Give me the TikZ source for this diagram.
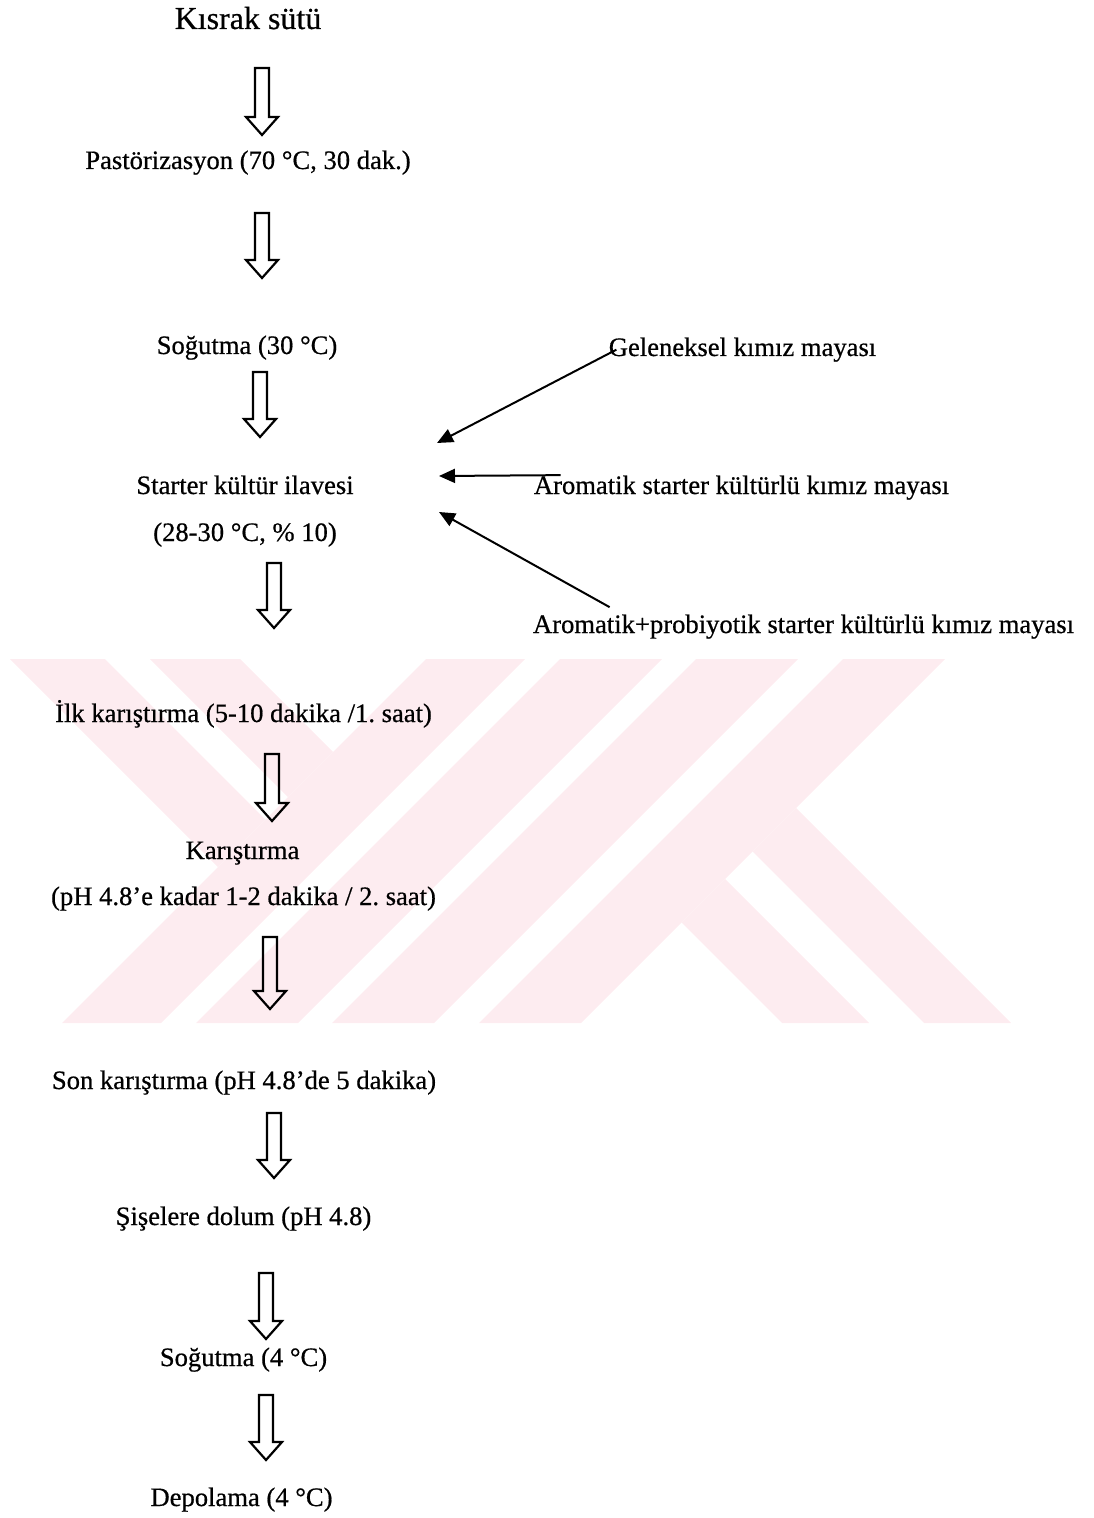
\documentclass[tikz,border=0pt]{standalone}
\usepackage{fontspec}
\setmainfont[FakeBold=0.6]{Liberation Serif}
\usetikzlibrary{arrows.meta}

\definecolor{yokpink}{RGB}{253,236,240}

% hollow down arrow: x, top y, tip y
\newcommand{\flowarrow}[3]{%
  \draw[blockarrow] (#1-7,#2) -- (#1+7,#2) -- (#1+7,#3-18) -- (#1+16,#3-18)
    -- (#1,#3) -- (#1-16,#3-18) -- (#1-7,#3-18) -- cycle;}

\begin{document}
\frenchspacing
\begin{tikzpicture}[x=0.5pt,y=-0.5pt,>={Triangle[length=8pt,width=7pt]},
  stage/.style={anchor=base,inner sep=0pt,font=\fontsize{13.3}{16}\selectfont},
  title/.style={anchor=base,inner sep=0pt,font=\fontsize{16}{19}\selectfont},
  blockarrow/.style={draw,line width=1.1pt,line join=miter},
  feed/.style={->,line width=1pt},
  logo/.style={fill=yokpink,draw=none}]
  \useasboundingbox (0,0) rectangle (1093,1518);

  % watermark
  \fill[logo] (10,659) -- (105,659) -- (265.5,819.5) -- (218,867) -- cycle;
  \fill[logo] (150,659) -- (240,659) -- (333,752) -- (288,797) -- cycle;
  \fill[logo] (426,659) -- (525,659) -- (161,1023) -- (62,1023) -- cycle;
  \fill[logo] (560,659) -- (662,659) -- (298,1023) -- (196,1023) -- cycle;
  \fill[logo] (696,659) -- (798,659) -- (434,1023) -- (332,1023) -- cycle;
  \fill[logo] (843,659) -- (945,659) -- (581,1023) -- (479,1023) -- cycle;
  \fill[logo] (796,808) -- (1011,1023) -- (924,1023) -- (752.5,851.5) -- cycle;
  \fill[logo] (725,879) -- (869,1023) -- (782,1023) -- (681.5,922.5) -- cycle;

  % steps
  \node[title] (kis)  at (248,29)    {Kısrak sütü};
  \node[stage] (pas)  at (248,169)   {Pastörizasyon (70 °C, 30 dak.)};
  \node[stage] (sog)  at (247,354)   {Soğutma (30 °C)};
  \node[stage] (sta)  at (245,494)   {Starter kültür ilavesi};
  \node[stage] (staT) at (245,541)   {(28-30 °C, \% 10)};
  \node[stage] (ilk)  at (243.5,722) {İlk karıştırma (5-10 dakika /1. saat)};
  \node[stage] (kar)  at (242.5,859) {Karıştırma};
  \node[stage] (karT) at (243.5,905) {(pH 4.8’e kadar 1-2 dakika / 2. saat)};
  \node[stage] (son)  at (244,1089)  {Son karıştırma (pH 4.8’de 5 dakika)};
  \node[stage] (sis)  at (243.5,1225) {Şişelere dolum (pH 4.8)};
  \node[stage] (sog2) at (243.5,1366) {Soğutma (4 °C)};
  \node[stage] (dep)  at (241.5,1506) {Depolama (4 °C)};

  % starter sources
  \node[stage] (gel) at (742.5,356) {Geleneksel kımız mayası};
  \node[stage] (aro) at (741.5,494) {Aromatik starter kültürlü kımız mayası};
  \node[stage] (pro) at (803.5,633) {Aromatik+probiyotik starter kültürlü kımız mayası};

  \coordinate (inG) at (437,443);
  \coordinate (inA) at (439,476);
  \coordinate (inP) at (439,512);

  \draw[feed] ([xshift=4pt]gel.west) -- (inG);
  \draw[feed] ([xshift=13.5pt]aro.north west) -- (inA);
  \draw[feed] ([xshift=38.5pt,yshift=3.5pt]pro.north west) -- (inP);

  \flowarrow{262}{68}{135}
  \flowarrow{262}{213}{278}
  \flowarrow{260}{372}{437}
  \flowarrow{274}{563}{628}
  \flowarrow{272}{754}{821}
  \flowarrow{270}{937}{1009}
  \flowarrow{274}{1113}{1178}
  \flowarrow{266}{1273}{1339}
  \flowarrow{266}{1395}{1460}
\end{tikzpicture}
\end{document}
